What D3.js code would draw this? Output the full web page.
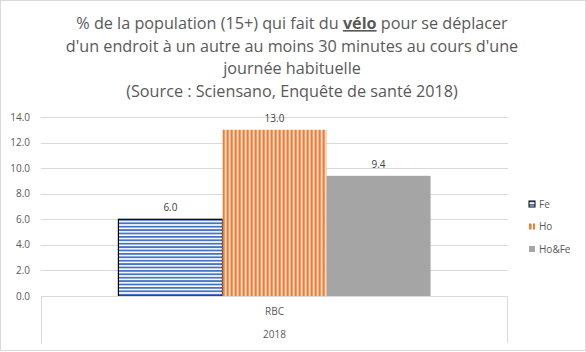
<!DOCTYPE html>
<html>
<head>
<meta charset="utf-8">
<script src="https://cdn.jsdelivr.net/npm/d3@7"></script>
<style>
  body { margin: 0; background: #fff; }
  svg { font-family: "Open Sans", "Liberation Sans", sans-serif; }
</style>
</head>
<body>
<script>
// % population qui fait du vélo - RBC 2018
var categories = ["RBC"];
var series = ["Fe", "Ho", "Ho&Fe"];
var values = [6.0, 13.0, 9.4];
var yTicks = [0, 2, 4, 6, 8, 10, 12, 14];
var yearLabel = "2018";

var W = 586, H = 352;
var margin = {top: 117, bottom: 56, left: 41, right: 78},
    width = W - margin.left - margin.right,
    height = 296 - margin.top;

var svg = d3.select("body").append("svg")
    .attr("width", W)
    .attr("height", H);

// outer border
svg.append("rect")
    .attr("x", 0.5).attr("y", 0.5)
    .attr("width", W - 1).attr("height", H - 2)
    .attr("fill", "#fff")
    .attr("stroke", "#d9d9d9");

// patterns
var defs = svg.append("defs");
var pFe = defs.append("pattern")
    .attr("id", "pFe")
    .attr("patternUnits", "userSpaceOnUse")
    .attr("width", 8).attr("height", 3.4);
pFe.append("rect").attr("width", 8).attr("height", 3.4).attr("fill", "#fff");
pFe.append("rect").attr("width", 8).attr("height", 1.8).attr("fill", "#4472c4");

var pHo = defs.append("pattern")
    .attr("id", "pHo")
    .attr("patternUnits", "userSpaceOnUse")
    .attr("width", 4).attr("height", 8);
pHo.append("rect").attr("width", 4).attr("height", 8).attr("fill", "#fff");
pHo.append("rect").attr("width", 2.6).attr("height", 8).attr("fill", "#ed7d31");

var fills = {"Fe": "url(#pFe)", "Ho": "url(#pHo)", "Ho&Fe": "#a5a5a5"};

// title
var title = svg.append("text")
    .attr("text-anchor", "middle")
    .style("font-size", "16.2px")
    .attr("fill", "#595959");
var t1 = title.append("tspan").attr("x", 292).attr("y", 29);
t1.append("tspan").text("% de la population (15+) qui fait du ");
t1.append("tspan").text("vélo").style("font-weight", "bold").style("text-decoration", "underline");
t1.append("tspan").text(" pour se déplacer");
title.append("tspan").attr("x", 292).attr("y", 52)
    .text("d'un endroit à un autre au moins 30 minutes au cours d'une");
title.append("tspan").attr("x", 292).attr("y", 74).text("journée habituelle");
title.append("tspan").attr("x", 292).attr("y", 97).text("(Source : Sciensano, Enquête de santé 2018)");

var g = svg.append("g")
    .attr("transform", "translate(" + margin.left + "," + margin.top + ")");

// scales
var x0 = d3.scaleBand()
    .domain(categories)
    .range([0, width])
    .paddingInner(0)
    .paddingOuter(0.248);

var x1 = d3.scaleBand()
    .domain(series)
    .range([0, x0.bandwidth()])
    .padding(0);

var y = d3.scaleLinear()
    .domain([0, 14])
    .range([height, 0]);

// gridlines
g.selectAll(".grid")
    .data(yTicks.slice(1))
    .enter().append("line")
    .attr("x1", 0).attr("x2", width)
    .attr("y1", function(d){ return Math.round(y(d)) + 0.5; })
    .attr("y2", function(d){ return Math.round(y(d)) + 0.5; })
    .attr("stroke", "#d9d9d9");

// y labels
g.selectAll(".ylab")
    .data(yTicks)
    .enter().append("text")
    .attr("x", -11)
    .attr("y", function(d){ return y(d); })
    .attr("dy", "0.35em")
    .attr("text-anchor", "end")
    .style("font-size", "10px")
    .attr("fill", "#595959")
    .text(function(d){ return d.toFixed(1); });

// bars
var rows = series.map(function(s, i){ return {key: s, value: values[i]}; });
var grp = g.selectAll(".cat")
    .data(categories)
    .enter().append("g")
    .attr("transform", function(d){ return "translate(" + x0(d) + ",0)"; });

grp.selectAll("rect")
    .data(rows)
    .enter().append("rect")
    .attr("x", function(d){ return x1(d.key); })
    .attr("width", x1.bandwidth())
    .attr("y", function(d){ return y(d.value); })
    .attr("height", function(d){ return height - y(d.value); })
    .attr("fill", function(d){ return fills[d.key]; })
    .attr("stroke", function(d){ return d.key == "Fe" ? "#000" : "none"; })
    .attr("stroke-width", 1.2);

grp.selectAll(".lbl")
    .data(rows)
    .enter().append("text")
    .attr("x", function(d){ return x1(d.key) + x1.bandwidth() / 2; })
    .attr("y", function(d){ return y(d.value) - 8; })
    .attr("text-anchor", "middle")
    .style("font-size", "10px")
    .attr("fill", "#404040")
    .text(function(d){ return d.value.toFixed(1); });

// category axis box
var ax = g.append("g").attr("stroke", "#d9d9d9").attr("fill", "none");
ax.append("line").attr("x1", 0).attr("x2", width).attr("y1", height + 0.5).attr("y2", height + 0.5);
ax.append("line").attr("x1", 0.5).attr("x2", 0.5).attr("y1", height).attr("y2", height + 47);
ax.append("line").attr("x1", width - 0.5).attr("x2", width - 0.5).attr("y1", height).attr("y2", height + 47);

g.selectAll(".cat-lab")
    .data(categories)
    .enter().append("text")
    .attr("x", function(d){ return x0(d) + x0.bandwidth() / 2; })
    .attr("y", height + 19)
    .attr("text-anchor", "middle")
    .style("font-size", "10px")
    .attr("fill", "#595959")
    .text(function(d){ return d; });

g.append("text")
    .attr("x", width / 2)
    .attr("y", height + 42)
    .attr("text-anchor", "middle")
    .style("font-size", "10px")
    .attr("fill", "#595959")
    .text(yearLabel);

// legend
var leg = svg.selectAll(".leg")
    .data(series)
    .enter().append("g")
    .attr("transform", function(d, i){ return "translate(529," + (204 + i * 22.5) + ")"; });

leg.append("rect")
    .attr("x", 0).attr("y", -3)
    .attr("width", 6).attr("height", 6)
    .attr("fill", function(d){ return fills[d]; })
    .attr("stroke", function(d){ return d == "Fe" ? "#000" : "none"; });

leg.append("text")
    .attr("x", 10)
    .attr("dy", "0.35em")
    .style("font-size", "10px")
    .attr("fill", "#595959")
    .text(function(d){ return d; });
</script>
</body>
</html>
